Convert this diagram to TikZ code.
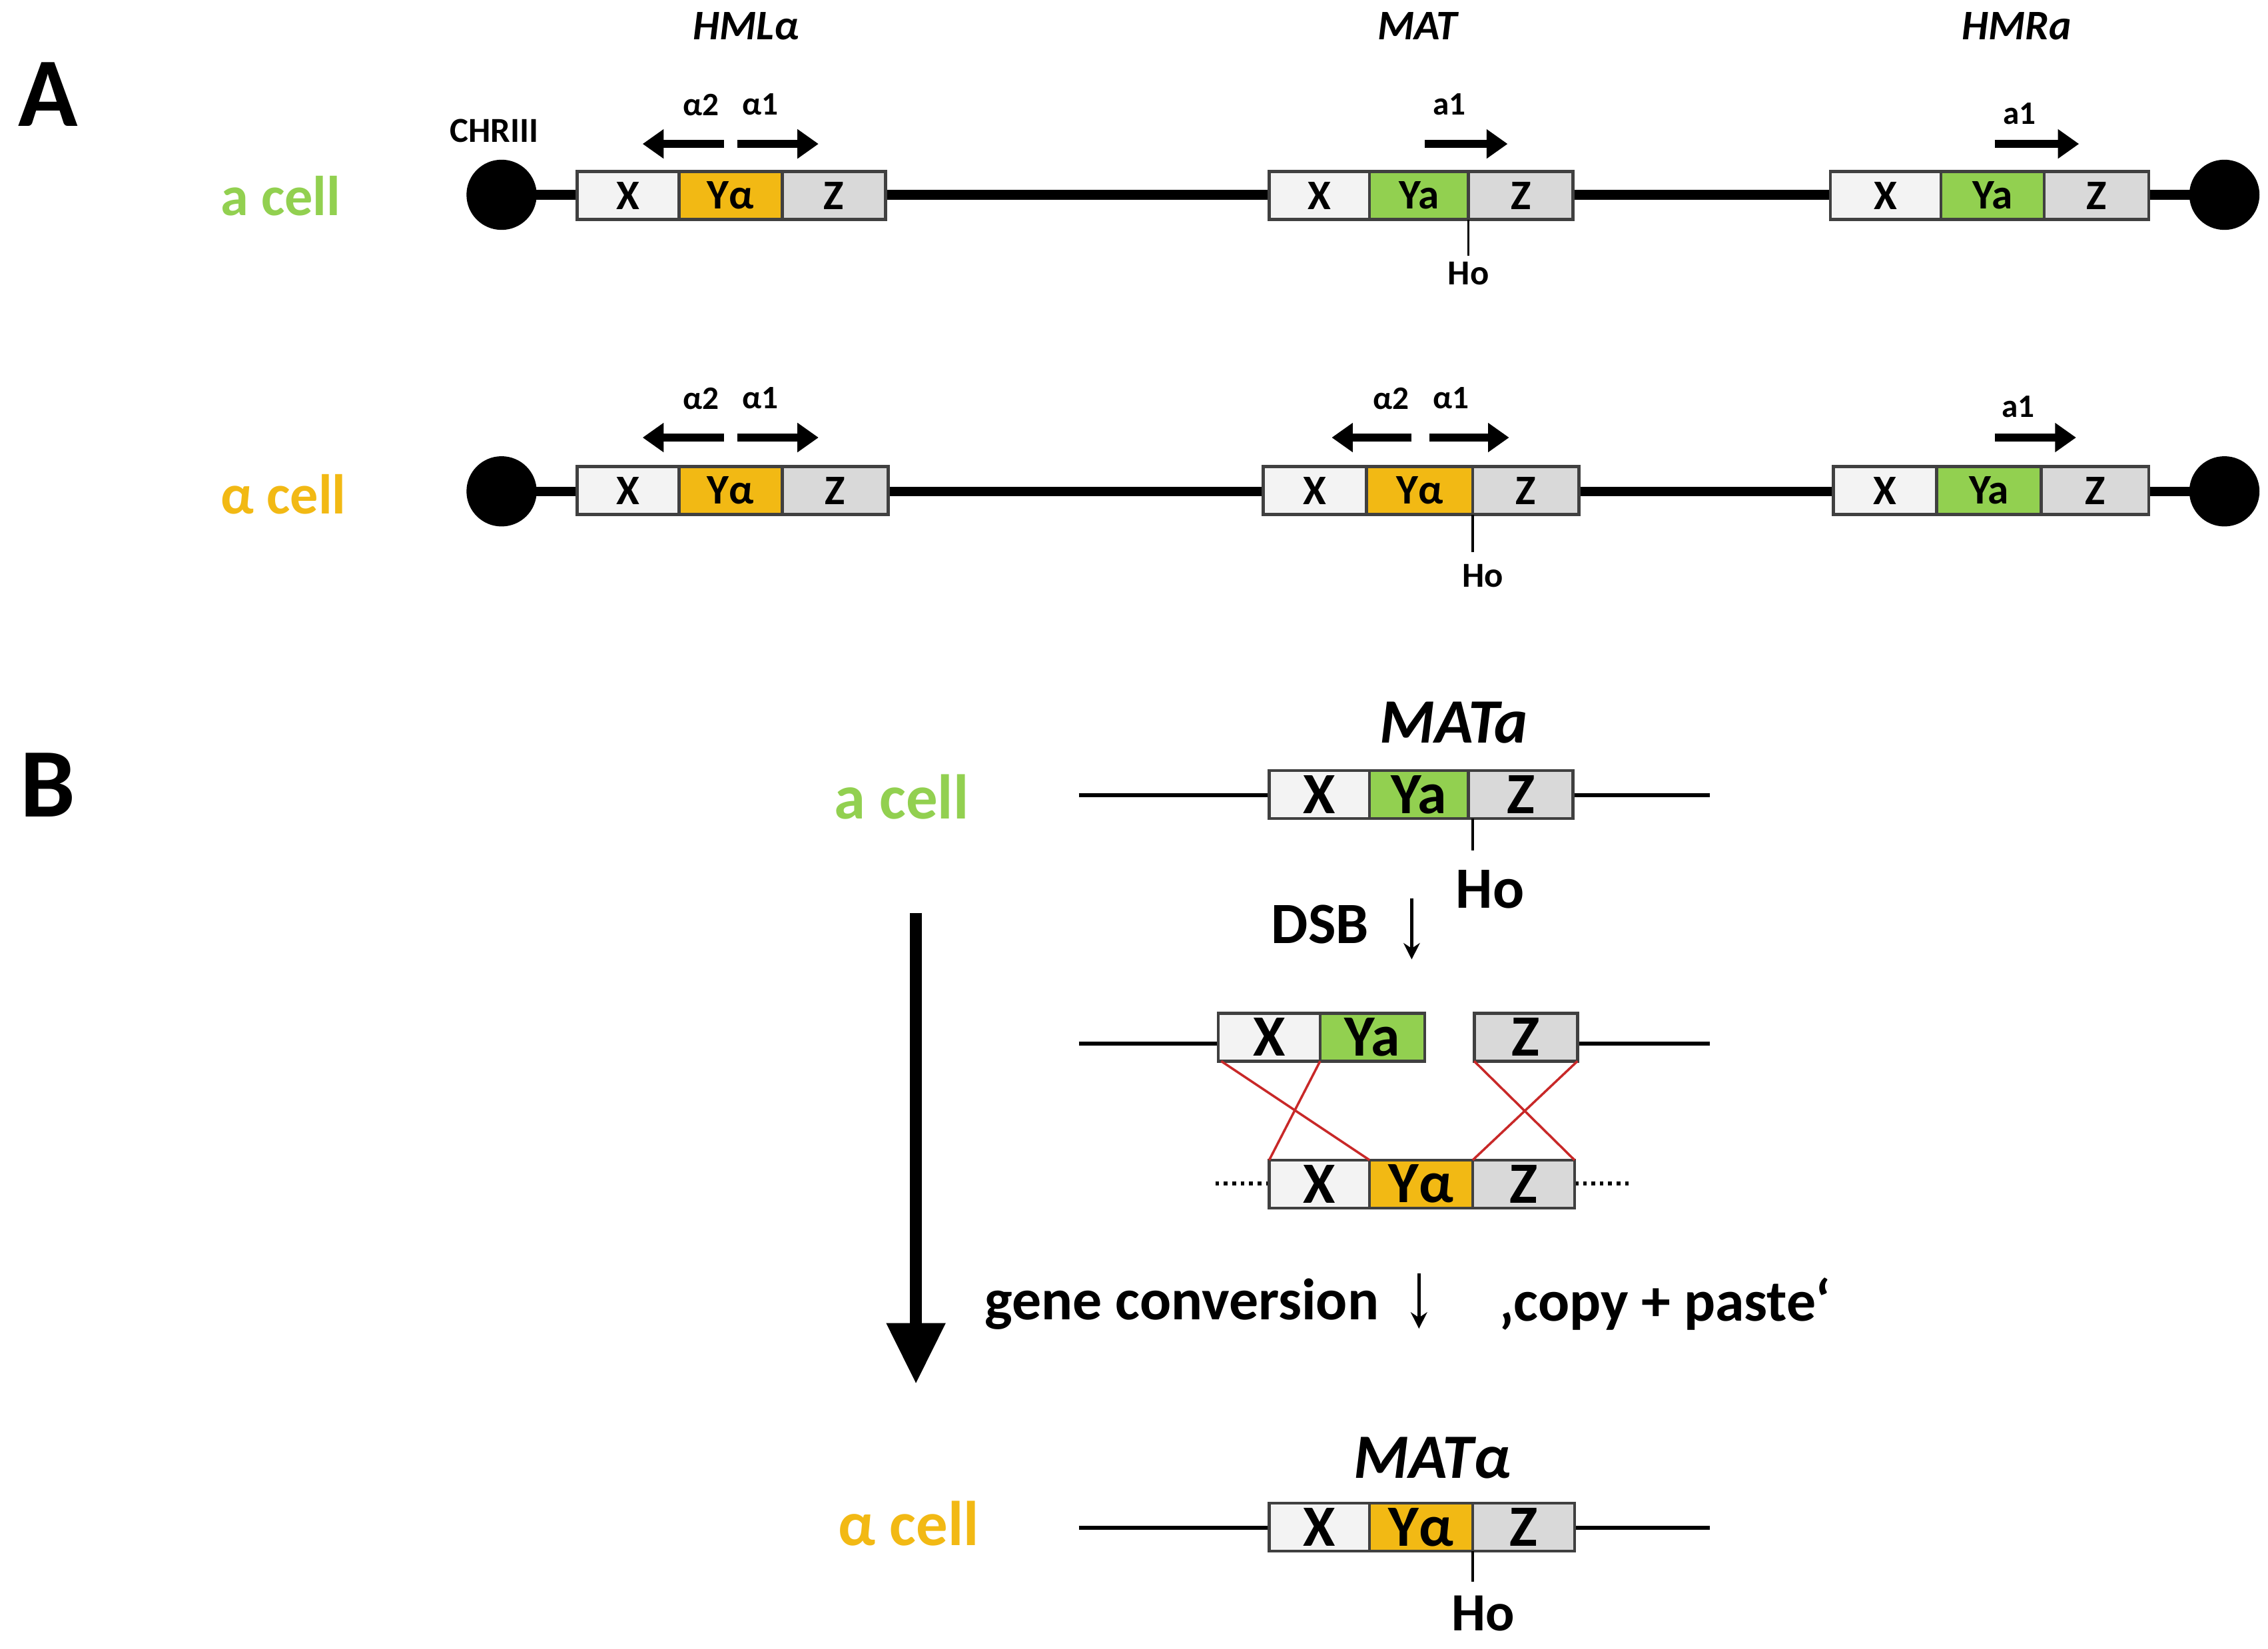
\documentclass[tikz,border=0pt]{standalone}
\usepackage{fontspec}
\setmainfont{Carlito}
\usetikzlibrary{arrows.meta}
\definecolor{gr}{RGB}{146,208,80}
\definecolor{yl}{RGB}{242,185,20}
\definecolor{xf}{RGB}{243,243,243}
\definecolor{zf}{RGB}{217,217,217}
\definecolor{bd}{RGB}{64,64,64}
\definecolor{rd}{RGB}{200,40,40}
\tikzset{
 cell/.style={draw=bd,line width=1.3pt},
 chr/.style={line width=4pt},
 thin chr/.style={line width=1.6pt},
 cen/.style={circle,fill=black,minimum size=30pt,inner sep=0pt},
 gene/.style={line width=3.2pt,-{Triangle[length=9pt,width=12pt]}},
 lblA/.style={font=\fontsize{18}{20}\selectfont\bfseries},
 lblB/.style={font=\fontsize{25}{28}\selectfont\bfseries},
 glab/.style={font=\fontsize{14}{16}\selectfont\bfseries},
 loc/.style={font=\fontsize{18}{20}\selectfont\bfseries\itshape},
 celllab/.style={font=\fontsize{24}{26}\selectfont\bfseries},
 big/.style={font=\fontsize{42}{44}\selectfont\bfseries},
 tick/.style={line width=1pt},
}
% \mycas{prefix}{x1}{x2}{x3}{ytop}{ybot}{midtext}{midcolor}
\newcommand\mycas[8]{%
 \filldraw[cell,fill=xf] (#2,#5) rectangle (#3,#6);
 \filldraw[cell,fill=#8] (#3,#5) rectangle (#4,#6);
 \node[\mystyle] (#1x) at ({(#2+#3)/2},{(#5+#6)/2}) {X};
 \node[\mystyle] (#1y) at ({(#3+#4)/2},{(#5+#6)/2}) {#7};
}
\newcommand\myz[5]{%
 \filldraw[cell,fill=zf] (#2,#4) rectangle (#3,#5);
 \node[\mystyle] (#1z) at ({(#2+#3)/2},{(#4+#5)/2}) {Z};
}
\def\mystyle{lblA}
\begin{document}
\begin{tikzpicture}[x=0.02183cm,y=-0.02183cm]
\useasboundingbox (0,0) rectangle (1560,1134);
\node[big] (A) at (33,65) {A};
\node[big] (B) at (33,540) {B};
% Row 1
\node[loc] (hml) at (513,18) {HMLα};
\node[loc] (mat) at (975,18) {MAT};
\node[loc] (hmr) at (1387,18) {HMRa};
\node[font=\fontsize{15}{17}\selectfont\bfseries] (chr) at (340,90) {CHRIII};
\node[celllab,text=gr] (ac1) at (193,135) {a cell};
\node[celllab,text=yl] (alc1) at (195,340) {α cell};
\foreach \y/\r in {134/1,338/2}{
 \coordinate (l\r) at (345,\y); \coordinate (r\r) at (1530,\y);
 \draw[chr] (l\r) -- (r\r);
 \node[cen] (cl\r) at (l\r) {};
 \node[cen] (cr\r) at (r\r) {};
}
\mycas{a1}{397}{467}{538}{118}{151}{Yα}{yl}
\myz{a1}{538}{609}{118}{151}
\mycas{a2}{873}{942}{1010}{118}{151}{Ya}{gr}
\myz{a2}{1010}{1082}{118}{151}
\mycas{a3}{1259}{1335}{1406}{118}{151}{Ya}{gr}
\myz{a3}{1406}{1478}{118}{151}
\mycas{b1}{397}{467}{538}{321}{354}{Yα}{yl}
\myz{b1}{538}{611}{321}{354}
\mycas{b2}{869}{940}{1013}{321}{354}{Yα}{yl}
\myz{b2}{1013}{1086}{321}{354}
\mycas{b3}{1261}{1332}{1404}{321}{354}{Ya}{gr}
\myz{b3}{1404}{1478}{321}{354}
% gene arrows row 1
\coordinate (g1a) at (498,99); \coordinate (g1b) at (442,99);
\coordinate (g2a) at (507,99); \coordinate (g2b) at (563,99);
\coordinate (g3a) at (980,99); \coordinate (g3b) at (1037,99);
\coordinate (g4a) at (1372,99); \coordinate (g4b) at (1430,99);
\draw[gene] (g1a)--(g1b); \draw[gene] (g2a)--(g2b);
\draw[gene] (g3a)--(g3b); \draw[gene] (g4a)--(g4b);
\node[glab] (t1) at (482,72) {α2};
\node[glab] (t2) at (523,72) {α1};
\node[glab] (t3) at (997,72) {a1};
\node[glab] (t4) at (1389,78) {a1};
\coordinate (h1a) at (1010,151); \coordinate (h1b) at (1010,176);
\draw[tick] (h1a)--(h1b);
\node[font=\fontsize{15}{17}\selectfont\bfseries] (ho1) at (1010,188) {Ho};
% gene arrows row 2
\coordinate (k1a) at (498,301); \coordinate (k1b) at (442,301);
\coordinate (k2a) at (507,301); \coordinate (k2b) at (563,301);
\coordinate (k3a) at (971,301); \coordinate (k3b) at (916,301);
\coordinate (k4a) at (983,301); \coordinate (k4b) at (1038,301);
\coordinate (k5a) at (1372,301); \coordinate (k5b) at (1428,301);
\foreach \n in {1,...,5}{\draw[gene] (k\n a)--(k\n b);}
\node[glab] (s1) at (482,274) {α2};
\node[glab] (s2) at (523,274) {α1};
\node[glab] (s3) at (957,274) {α2};
\node[glab] (s4) at (998,274) {α1};
\node[glab] (s5) at (1388,280) {a1};
\coordinate (h2a) at (1013,354); \coordinate (h2b) at (1013,380);
\draw[tick] (h2a)--(h2b);
\node[font=\fontsize{15}{17}\selectfont\bfseries] (ho2) at (1020,396) {Ho};
% ---------------- B
\def\mystyle{lblB}
\node[text=gr,font=\fontsize{27}{29}\selectfont\bfseries] (ac2) at (620,548) {a cell};
\node[font=\fontsize{27}{29}\selectfont\bfseries\itshape] (mt1) at (1000,497) {MATa};
\coordinate (m1l) at (742,547); \coordinate (m1r) at (1176,547);
\draw[thin chr] (m1l)--(m1r);
\mycas{c1}{873}{942}{1010}{530}{563}{Ya}{gr}
\myz{c1}{1010}{1082}{530}{563}
\coordinate (h3a) at (1013,563); \coordinate (h3b) at (1013,585);
\draw[tick] (h3a)--(h3b);
\node[lblB] (ho3) at (1025,612) {Ho};
\node[lblB] (dsb) at (908,636) {DSB};
\coordinate (d1) at (971,618); \coordinate (d2) at (971,660);
\draw[line width=1.5pt,-{Stealth[length=7pt,width=7pt]}] (d1)--(d2);
% broken
\coordinate (m2l) at (742,718); \coordinate (m2r) at (1176,718);
\draw[thin chr] (m2l)--(838,718);
\draw[thin chr] (1085,718)--(m2r);
\mycas{c2}{838}{908}{980}{697}{730}{Ya}{gr}
\myz{c2}{1014}{1085}{697}{730}
\coordinate (m3l) at (836,814); \coordinate (m3r) at (1120,814);
\draw[line width=1.6pt,dotted] (m3l)--(873,814) (1083,814)--(m3r);
\mycas{c3}{873}{942}{1013}{798}{831}{Yα}{yl}
\myz{c3}{1013}{1083}{798}{831}
\draw[rd,line width=1pt] (840,730)--(942,798);
\draw[rd,line width=1pt] (908,730)--(873,798);
\draw[rd,line width=1pt] (1014,730)--(1083,798);
\draw[rd,line width=1pt] (1085,730)--(1013,798);
% big arrow
\coordinate (ba1) at (630,628); \coordinate (ba2) at (630,952);
\draw[line width=5pt,-{Triangle[length=26pt,width=24pt]}] (ba1)--(ba2);
\node[lblB] (gc) at (813,897) {gene conversion};
\coordinate (e1) at (976,876); \coordinate (e2) at (976,914);
\draw[line width=1.5pt,-{Stealth[length=7pt,width=7pt]}] (e1)--(e2);
\node[lblB] (cp) at (1145,897) {‚copy + paste‘};
% bottom
\node[font=\fontsize{27}{29}\selectfont\bfseries\itshape] (mt2) at (985,1003) {MATα};
\node[text=yl,font=\fontsize{27}{29}\selectfont\bfseries] (alc2) at (625,1048) {α cell};
\coordinate (m4l) at (742,1051); \coordinate (m4r) at (1176,1051);
\draw[thin chr] (m4l)--(m4r);
\mycas{c4}{873}{942}{1013}{1034}{1067}{Yα}{yl}
\myz{c4}{1013}{1083}{1034}{1067}
\coordinate (h4a) at (1013,1067); \coordinate (h4b) at (1013,1088);
\draw[tick] (h4a)--(h4b);
\node[font=\fontsize{23}{25}\selectfont\bfseries] (ho4) at (1020,1110) {Ho};
\end{tikzpicture}
\end{document}
